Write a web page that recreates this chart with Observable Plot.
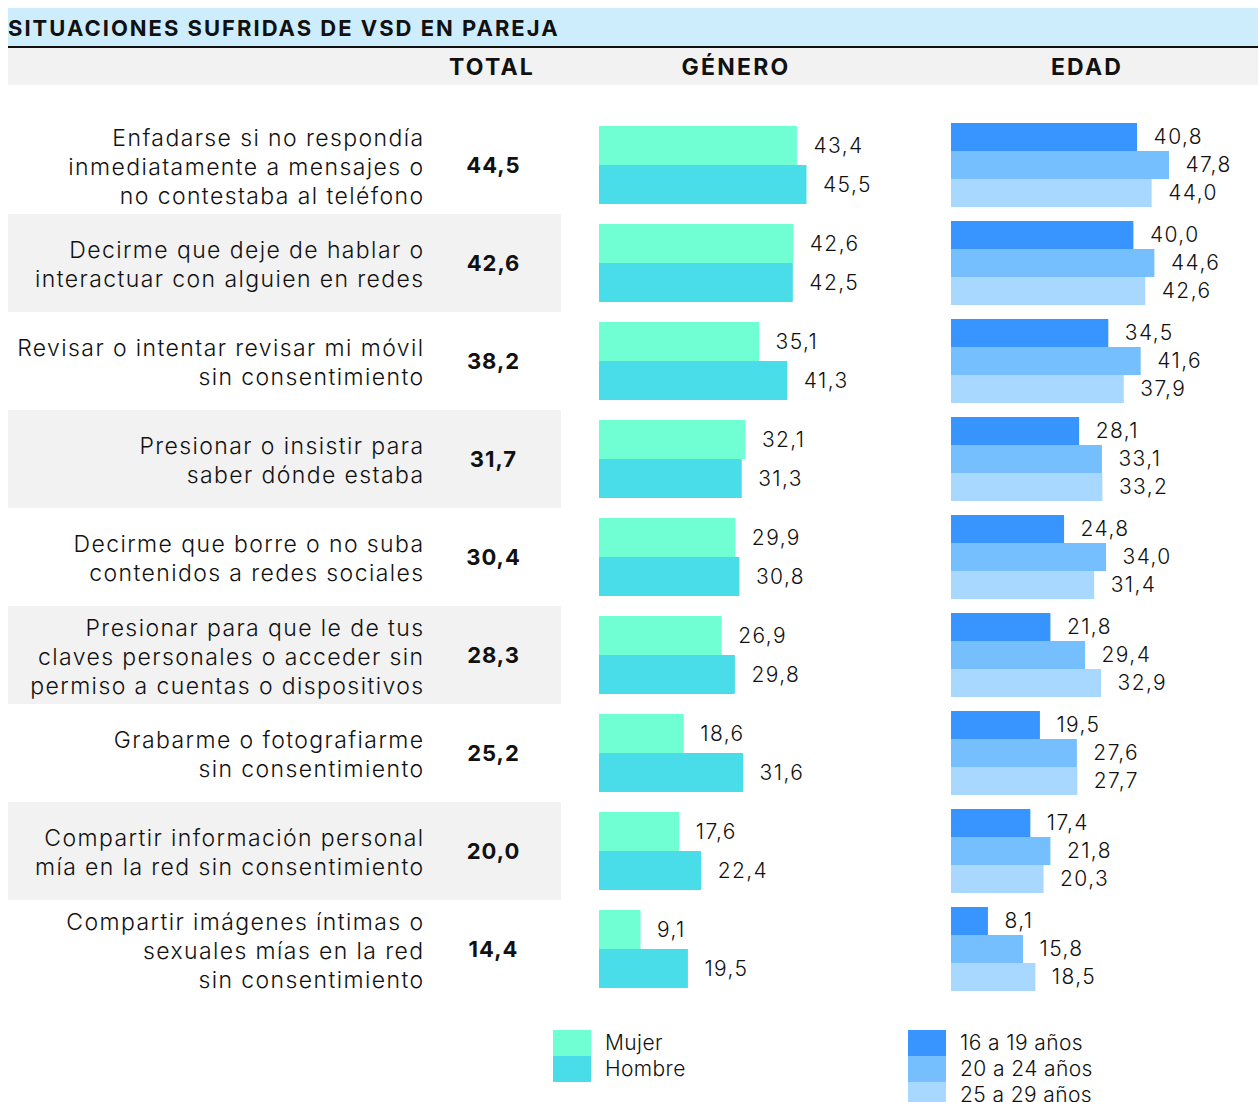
<!DOCTYPE html>
<html>
<head>
<meta charset="utf-8">
<script src="https://cdn.jsdelivr.net/npm/d3@7"></script>
<script src="https://cdn.jsdelivr.net/npm/@observablehq/plot@0.6"></script>
<style>
  html, body { margin: 0; padding: 0; background: #fff; width: 1258px; height: 1102px; overflow: hidden; }
  body { position: relative; font-family: "Inter", sans-serif; color: #111; }
  #title { position: absolute; left: 8px; top: 8px; width: 1250px; height: 38px; background: #cdedfd;
           font-weight: 700; font-size: 22px; line-height: 40px; letter-spacing: 2px; white-space: nowrap; }
  #rule { position: absolute; left: 8px; top: 46px; width: 1250px; height: 2px; background: #111; }
  #head { position: absolute; left: 8px; top: 48px; width: 1250px; height: 37px; background: #f2f2f2; }
  .h { position: absolute; top: 48px; height: 37px; line-height: 38px; font-weight: 700; font-size: 23px; letter-spacing: 2.2px; transform: translateX(-50%); white-space: nowrap; }
  #charts { position: absolute; left: 0; top: 85px; display: flex; }
  #charts svg { display: block; }
  #charts g[font-weight="300"] text { letter-spacing: 1.4px; }
  #charts g[font-weight="700"] text { letter-spacing: 1px; }
  .leg { position: absolute; font-size: 21px; font-weight: 300; letter-spacing: 0.4px; }
  .sw { position: absolute; width: 38px; height: 26px; }
  .lt { position: absolute; line-height: 26px; white-space: nowrap; }
</style>
</head>
<body>
<div id="title">SITUACIONES SUFRIDAS DE VSD EN PAREJA</div>
<div id="rule"></div>
<div id="head"></div>
<div id="headers"></div>
<div id="charts"></div>
<div id="legend"></div>
<script>
// ---------- data ----------
const situaciones = [
  "Enfadarse si no respondía\ninmediatamente a mensajes o\nno contestaba al teléfono",
  "Decirme que deje de hablar o\ninteractuar con alguien en redes",
  "Revisar o intentar revisar mi móvil\nsin consentimiento",
  "Presionar o insistir para\nsaber dónde estaba",
  "Decirme que borre o no suba\ncontenidos a redes sociales",
  "Presionar para que le de tus\nclaves personales o acceder sin\npermiso a cuentas o dispositivos",
  "Grabarme o fotografiarme\nsin consentimiento",
  "Compartir información personal\nmía en la red sin consentimiento",
  "Compartir imágenes íntimas o\nsexuales mías en la red\nsin consentimiento"
];
const total   = [44.5, 42.6, 38.2, 31.7, 30.4, 28.3, 25.2, 20.0, 14.4];
const mujer   = [43.4, 42.6, 35.1, 32.1, 29.9, 26.9, 18.6, 17.6, 9.1];
const hombre  = [45.5, 42.5, 41.3, 31.3, 30.8, 29.8, 31.6, 22.4, 19.5];
const edad16  = [40.8, 40.0, 34.5, 28.1, 24.8, 21.8, 19.5, 17.4, 8.1];
const edad20  = [47.8, 44.6, 41.6, 33.1, 34.0, 29.4, 27.6, 21.8, 15.8];
const edad25  = [44.0, 42.6, 37.9, 33.2, 31.4, 32.9, 27.7, 20.3, 18.5];
const generoSeries = ["Mujer", "Hombre"];
const edadSeries = ["16 a 19 años", "20 a 24 años", "25 a 29 años"];
const columnHeaders = ["TOTAL", "GÉNERO", "EDAD"];

// ---------- styles ----------
const generoColors = ["#6fffd2", "#48dde9"];
const edadColors = ["#3895ff", "#75bfff", "#a8d7ff"];
const FONT = "Inter, sans-serif";
const fmt = d => d.toFixed(1).replace(".", ",");

// headers
const headerX = [492, 736, 1087];
const hd = document.getElementById("headers");
columnHeaders.forEach((t, i) => {
  const e = document.createElement("div");
  e.className = "h"; e.textContent = t; e.style.left = headerX[i] + "px";
  hd.appendChild(e);
});

// shared vertical layout
const H = 935, MT = 29, MB = 21;
const XMAX = 60;

// ---------- panel 1: labels + total ----------
const rows = situaciones.map((s, i) => ({s, i, total: total[i]}));
const p1 = Plot.plot({
  width: 561, height: H, marginTop: MT, marginBottom: MB, marginLeft: 8, marginRight: 0,
  style: {fontFamily: FONT, background: "transparent"},
  x: {type: "point", domain: ["label", "total"], range: [424, 493], padding: 0, axis: null},
  y: {type: "band", domain: situaciones, padding: 0, axis: null},
  marks: [
    Plot.cell(rows.filter(r => r.i % 2 === 1), {y: "s", fill: "#f2f2f2"}),
    Plot.text(rows, {x: () => "label", y: "s", text: "s", textAnchor: "end", lineAnchor: "middle",
      lineHeight: 1.27, fontSize: 23, fontWeight: 300, fill: "#111"}),
    Plot.text(rows, {x: () => "total", y: "s", text: d => fmt(d.total), textAnchor: "middle",
      fontSize: 22, fontWeight: 700, fill: "#111"})
  ]
});

// ---------- panel 2: género ----------
const genero = [];
situaciones.forEach((s, i) => {
  genero.push({s, serie: "Mujer", v: mujer[i]});
  genero.push({s, serie: "Hombre", v: hombre[i]});
});
const p2 = Plot.plot({
  width: 390, height: H, marginTop: MT, marginBottom: MB, marginLeft: 38, marginRight: 390 - 38 - 4.56 * XMAX,
  style: {fontFamily: FONT, background: "transparent", overflow: "visible"},
  facet: {data: genero, y: "s"},
  fy: {domain: situaciones, padding: 0, axis: null},
  x: {domain: [0, XMAX], axis: null},
  y: {domain: generoSeries, paddingInner: 0, paddingOuter: 0.24, axis: null},
  color: {domain: generoSeries, range: generoColors},
  marks: [
    Plot.barX(genero, {x: "v", y: "serie", fill: "serie"}),
    Plot.text(genero, {x: "v", y: "serie", text: d => fmt(d.v), textAnchor: "start", dx: 16,
      fontSize: 21, fontWeight: 300, fill: "#111"})
  ]
});

// ---------- panel 3: edad ----------
const edadVals = [edad16, edad20, edad25];
const edad = [];
situaciones.forEach((s, i) => {
  edadSeries.forEach((e, k) => edad.push({s, serie: e, v: edadVals[k][i]}));
});
const p3 = Plot.plot({
  width: 307, height: H, marginTop: MT, marginBottom: MB, marginLeft: 0, marginRight: 307 - 4.56 * XMAX,
  style: {fontFamily: FONT, background: "transparent", overflow: "visible"},
  facet: {data: edad, y: "s"},
  fy: {domain: situaciones, padding: 0, axis: null},
  x: {domain: [0, XMAX], axis: null},
  y: {domain: edadSeries, paddingInner: 0, paddingOuter: 0.2, axis: null},
  color: {domain: edadSeries, range: edadColors},
  marks: [
    Plot.barX(edad, {x: "v", y: "serie", fill: "serie"}),
    Plot.text(edad, {x: "v", y: "serie", text: d => fmt(d.v), textAnchor: "start", dx: 16,
      fontSize: 21, fontWeight: 300, fill: "#111"})
  ]
});

const charts = document.getElementById("charts");
charts.append(p1, p2, p3);

// ---------- legends ----------
const lg = document.getElementById("legend");
function legend(labels, colors, x, y) {
  labels.forEach((t, k) => {
    const sw = document.createElement("div");
    sw.className = "sw"; sw.style.left = x + "px"; sw.style.top = (y + k * 26) + "px";
    sw.style.background = colors[k];
    const tx = document.createElement("div");
    tx.className = "lt leg"; tx.textContent = t;
    tx.style.left = (x + 52) + "px"; tx.style.top = (y + k * 26) + "px";
    lg.append(sw, tx);
  });
}
legend(generoSeries, generoColors, 553, 1030);
legend(edadSeries, edadColors, 908, 1030);
</script>
</body>
</html>
